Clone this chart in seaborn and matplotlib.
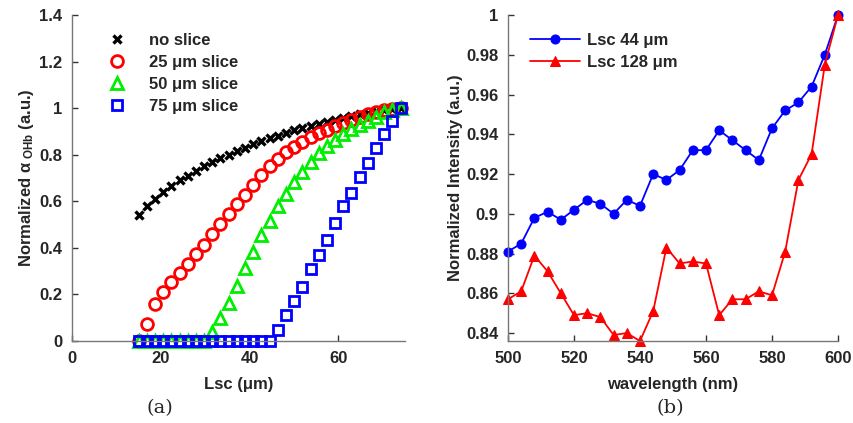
import numpy as np
import matplotlib
matplotlib.use("Agg")
import matplotlib.pyplot as plt
import seaborn as sns

# ---- data: panel (a) ----
lsc = np.linspace(15, 74, 33)
no_slice = [0.54, 0.58, 0.61, 0.64, 0.665, 0.69, 0.71, 0.73, 0.75, 0.77, 0.785,
            0.80, 0.815, 0.83, 0.845, 0.858, 0.87, 0.882, 0.893, 0.904, 0.914,
            0.924, 0.933, 0.942, 0.950, 0.958, 0.966, 0.973, 0.980, 0.986,
            0.991, 0.996, 1.0]
slice25 = [0.0, 0.073, 0.157, 0.212, 0.255, 0.293, 0.329, 0.372, 0.412, 0.458,
           0.501, 0.544, 0.587, 0.628, 0.668, 0.712, 0.75, 0.782, 0.81, 0.834,
           0.856, 0.874, 0.892, 0.908, 0.923, 0.937, 0.95, 0.962, 0.973, 0.983,
           0.991, 0.997, 1.0]
slice50 = [0, 0, 0, 0, 0, 0, 0, 0, 0, 0.04, 0.097, 0.162, 0.236, 0.312, 0.383,
           0.455, 0.517, 0.58, 0.632, 0.681, 0.727, 0.77, 0.806, 0.836, 0.863,
           0.887, 0.909, 0.927, 0.945, 0.963, 0.982, 0.994, 1.0]
slice75 = [0, 0, 0, 0, 0, 0, 0, 0, 0, 0, 0, 0, 0, 0, 0, 0, 0, 0.047, 0.112,
           0.172, 0.23, 0.309, 0.369, 0.434, 0.505, 0.579, 0.636, 0.705, 0.763,
           0.83, 0.887, 0.945, 1.0]
labels_a = ["no slice", "25 \u03bcm slice", "50 \u03bcm slice", "75 \u03bcm slice"]

# ---- data: panel (b) ----
wavelength = np.arange(500, 601, 4)
lsc44 = [0.881, 0.885, 0.898, 0.901, 0.897, 0.902, 0.907, 0.905, 0.900, 0.907,
         0.904, 0.920, 0.917, 0.922, 0.932, 0.932, 0.942, 0.937, 0.932, 0.927,
         0.943, 0.952, 0.956, 0.964, 0.980, 1.0]
lsc128 = [0.857, 0.861, 0.879, 0.871, 0.860, 0.849, 0.850, 0.848, 0.839, 0.840,
          0.836, 0.851, 0.883, 0.875, 0.876, 0.875, 0.849, 0.857, 0.857, 0.861,
          0.859, 0.881, 0.917, 0.930, 0.975, 1.0]
labels_b = ["Lsc 44 \u03bcm", "Lsc 128 \u03bcm"]

sns.set_style("white")
plt.rcParams['font.family'] = ['Liberation Sans', 'DejaVu Sans']
plt.rcParams['font.weight'] = 'bold'
plt.rcParams['mathtext.fontset'] = 'custom'
plt.rcParams['mathtext.rm'] = 'Liberation Sans'
plt.rcParams['mathtext.bf'] = 'Liberation Sans:bold'
plt.rcParams['mathtext.it'] = 'Liberation Sans:italic'

fig = plt.figure(figsize=(8.54, 4.23), dpi=100)
axa = fig.add_axes([72/854, 82/423, 333/854, 326/423])
axb = fig.add_axes([508/854, 82/423, 330/854, 326/423])

# panel a
styles = [
    dict(marker='x', color='black', mec='black', ms=6.0, mew=2.4),
    dict(marker='o', color='red', mec='red', mfc='none', ms=8.5, mew=2.0),
    dict(marker='^', color='#00ee00', mec='#00ee00', mfc='none', ms=8.0, mew=2.0),
    dict(marker='s', color='blue', mec='blue', mfc='none', ms=7.0, mew=2.0),
]
for ys, lab, st in zip([no_slice, slice25, slice50, slice75], labels_a, styles):
    sns.lineplot(x=lsc, y=ys, ax=axa, linestyle='', label=lab,
                 estimator=None, sort=False, clip_on=False, **st)

axa.set_xlim(0, 75)
axa.set_ylim(0, 1.4)
axa.set_xticks([0, 20, 40, 60])
axa.set_yticks(np.arange(0, 1.41, 0.2))
axa.set_yticklabels(["%g" % v for v in np.round(np.arange(0, 1.41, 0.2), 1)])
axa.set_xlabel("Lsc (\u03bcm)", fontsize=12, fontweight='bold', labelpad=8)
axa.set_ylabel("Normalized \u03b1$_{\\ \\mathbf{OHb}}$ (a.u.)", fontsize=12,
               fontweight='bold', labelpad=2)
axa.legend(loc='upper left', bbox_to_anchor=(0.09, 0.965), frameon=False,
           fontsize=12, handlelength=1.0, handletextpad=1.4,
           labelspacing=0.42, borderaxespad=0)

# panel b
sns.lineplot(x=wavelength, y=lsc44, ax=axb, color='blue', marker='o', ms=6.5,
             mec='blue', mfc='blue', lw=1.3, label=labels_b[0], estimator=None,
             clip_on=False)
sns.lineplot(x=wavelength, y=lsc128, ax=axb, color='red', marker='^', ms=6.5,
             mec='red', mfc='red', lw=1.3, label=labels_b[1], estimator=None,
             clip_on=False)
axb.set_xlim(500, 600)
axb.set_ylim(0.836, 1.0)
axb.set_xticks(np.arange(500, 601, 20))
yt = np.round(np.arange(0.84, 1.001, 0.02), 2)
axb.set_yticks(yt)
axb.set_yticklabels(["%g" % v for v in yt])
axb.set_xlabel("wavelength (nm)", fontsize=12, fontweight='bold', labelpad=8)
axb.set_ylabel("Normalized Intensity (a.u.)", fontsize=12, fontweight='bold',
               labelpad=2)
axb.legend(loc='upper left', bbox_to_anchor=(0.045, 0.965), frameon=False,
           fontsize=12, handlelength=3.0, handletextpad=0.45,
           labelspacing=0.42, borderaxespad=0)

for ax in (axa, axb):
    for side in ('top', 'right'):
        ax.spines[side].set_visible(False)
    for side in ('left', 'bottom'):
        ax.spines[side].set_color('#777777')
        ax.spines[side].set_linewidth(1.0)
    ax.tick_params(direction='in', length=4, width=1, color='#333333',
                   labelsize=12, pad=7, bottom=True, left=True)
    for lbl in ax.get_xticklabels() + ax.get_yticklabels():
        lbl.set_fontweight('bold')
    ax.patch.set_alpha(0)

fig.text(160/854, 1 - 408/423, "(a)", ha='center', va='center', fontsize=14,
         family='DejaVu Serif', fontweight='normal')
fig.text(670/854, 1 - 408/423, "(b)", ha='center', va='center', fontsize=14,
         family='DejaVu Serif', fontweight='normal')

fig.savefig("out.png", dpi=100, facecolor='white')
